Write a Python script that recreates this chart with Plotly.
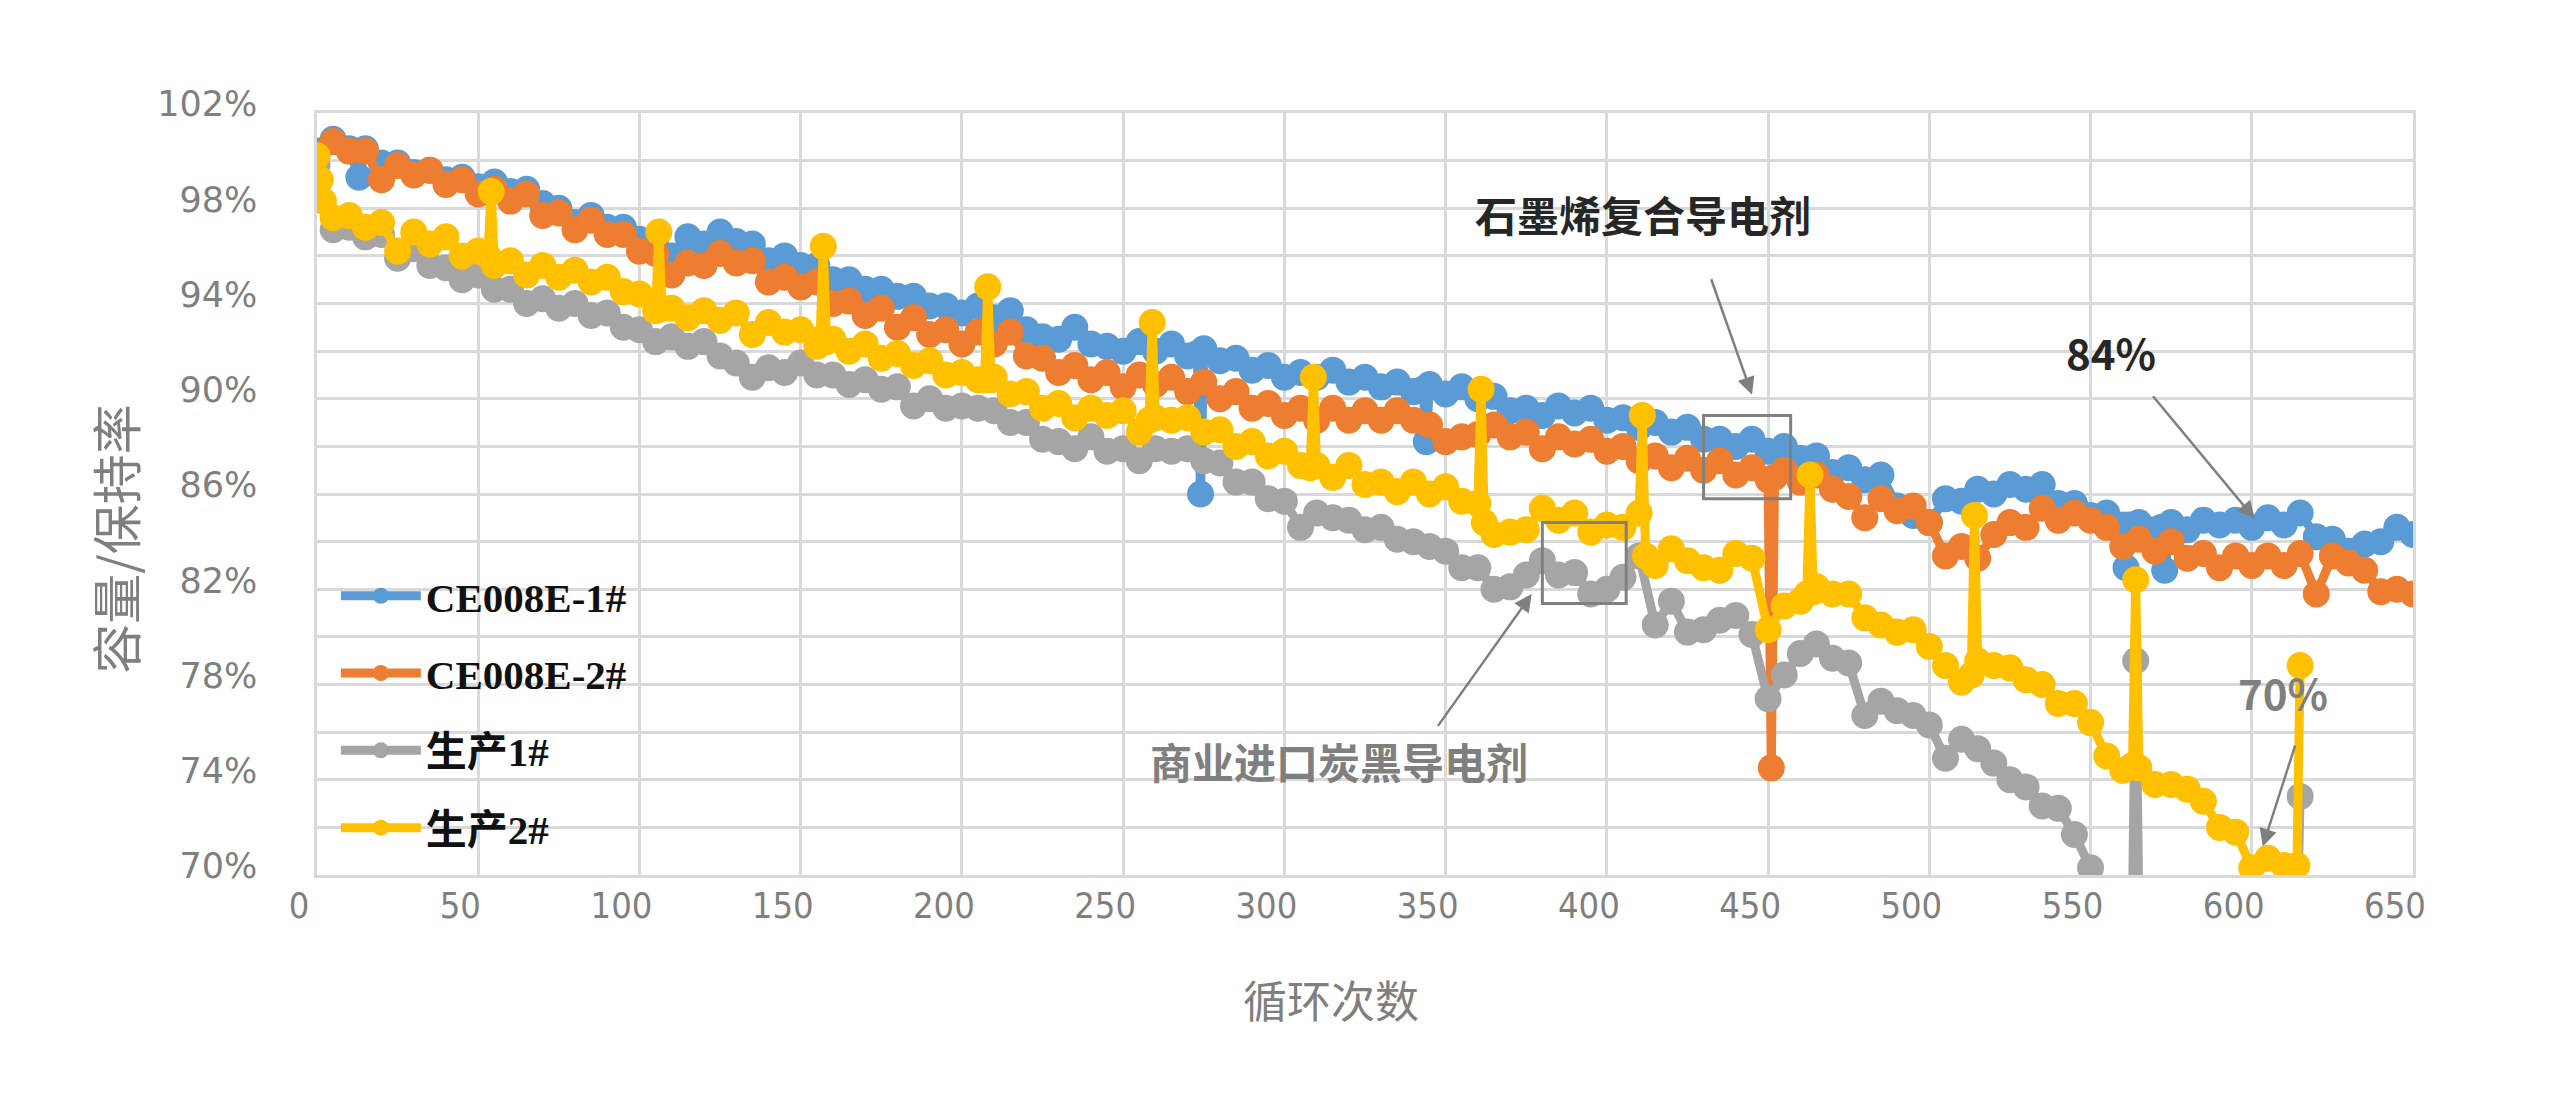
import plotly.graph_objects as go

# ---------------- data ----------------
BASE_CYCLES = list(range(0, 651, 5))

BLUE_VALUES = [
    100.4, 100.9, 100.5, 100.5, 99.9, 99.9, 99.5, 99.6, 99.2, 99.3,
    98.9, 99.1, 98.7, 98.8, 98.2, 98.0, 97.4, 97.7, 97.2, 97.2,
    96.7, 96.6, 96.0, 96.8, 96.5, 97.0, 96.6, 96.5, 95.8, 96.0,
    95.6, 95.6, 95.0, 95.0, 94.6, 94.6, 94.3, 94.3, 93.9, 93.9,
    93.6, 93.9, 93.4, 93.7, 92.9, 92.6, 92.5, 93.0, 92.3, 92.2,
    92.0, 92.4, 92.0, 92.3, 91.8, 92.1, 91.6, 91.7, 91.2, 91.4,
    90.9, 91.1, 90.9, 91.2, 90.7, 90.9, 90.5, 90.7, 90.3, 90.6,
    90.2, 90.5, 90.0, 90.1, 89.5, 89.6, 89.3, 89.7, 89.4, 89.6,
    89.1, 89.2, 88.8, 89.0, 88.6, 88.8, 88.3, 88.3, 88.0, 88.3,
    87.8, 88.0, 87.5, 87.6, 86.9, 87.1, 86.6, 86.8, 85.5, 85.1,
    84.8, 85.8, 85.7, 86.2, 86.0, 86.4, 86.2, 86.4, 85.6, 85.6,
    85.1, 85.2, 84.7, 84.8, 84.5, 84.8, 84.5, 84.9, 84.7, 84.9,
    84.6, 85.0, 84.7, 85.2, 84.2, 84.1, 83.6, 83.9, 84.0, 84.6,
    84.3,
]
ORANGE_VALUES = [
    100.2, 100.8, 100.4, 100.4, 99.2, 99.8, 99.4, 99.6, 99.0, 99.2,
    98.6, 98.8, 98.3, 98.6, 97.7, 97.8, 97.1, 97.5, 96.9, 96.9,
    96.2, 96.1, 95.2, 95.7, 95.6, 96.1, 95.7, 95.8, 94.9, 95.1,
    94.7, 94.9, 94.0, 94.1, 93.5, 93.8, 93.0, 93.4, 92.7, 92.9,
    92.3, 92.8, 92.3, 92.8, 91.8, 91.7, 91.1, 91.4, 90.8, 91.1,
    90.5, 91.0, 90.6, 90.9, 90.3, 90.7, 90.0, 90.3, 89.6, 89.8,
    89.3, 89.6, 89.1, 89.6, 89.1, 89.5, 89.1, 89.5, 89.1, 88.9,
    88.2, 88.4, 88.5, 88.9, 88.4, 88.6, 87.9, 88.4, 88.1, 88.3,
    87.8, 88.0, 87.4, 87.6, 87.1, 87.5, 87.0, 87.4, 86.8, 87.1,
    86.6, 87.0, 86.5, 86.8, 86.2, 85.9, 85.0, 85.8, 85.3, 85.5,
    84.8, 83.4, 83.8, 83.3, 84.3, 84.8, 84.6, 85.4, 84.9, 85.2,
    84.9, 84.6, 83.8, 84.1, 83.6, 84.0, 83.3, 83.5, 82.9, 83.4,
    83.0, 83.4, 83.0, 83.5, 81.8, 83.4, 83.1, 82.8, 81.9, 82.0,
    81.8,
]
GRAY_VALUES = [
    99.8, 97.1, 97.2, 96.8, 96.9, 95.9, 96.3, 95.6, 95.5, 95.0,
    95.2, 94.6, 94.6, 94.0, 94.2, 93.8, 94.0, 93.5, 93.6, 93.0,
    92.9, 92.4, 92.6, 92.2, 92.4, 91.8, 91.5, 90.9, 91.3, 91.1,
    91.5, 91.0, 91.0, 90.6, 90.8, 90.4, 90.5, 89.7, 90.0, 89.6,
    89.7, 89.6, 89.5, 89.0, 89.0, 88.3, 88.2, 87.9, 88.4, 87.8,
    87.9, 87.4, 87.9, 87.8, 87.9, 87.4, 87.3, 86.5, 86.5, 85.8,
    85.7, 84.6, 85.2, 85.0, 84.9, 84.5, 84.6, 84.1, 84.0, 83.8,
    83.6, 82.9, 82.9, 82.0, 82.1, 82.6, 83.2, 82.6, 82.7, 81.8,
    82.0, 82.5, 83.4, 80.5, 81.5, 80.2, 80.3, 80.7, 80.9, 80.1,
    77.4, 78.4, 79.3, 79.7, 79.1, 78.9, 76.7, 77.3, 76.9, 76.7,
    76.3, 74.9, 75.7, 75.3, 74.7, 74.0, 73.7, 72.9, 72.8, 71.7,
    70.3, 69.3, 68.9, 68.6, 68.4, 68.3, 68.1, 68.0, 67.9, 67.8,
    67.7, 67.6, 67.5,
]
YELLOW_VALUES = [
    100.2, 97.6, 97.7, 97.2, 97.4, 96.2, 97.0, 96.5, 96.8, 96.0,
    96.2, 95.6, 95.8, 95.2, 95.6, 95.1, 95.4, 94.9, 95.1, 94.5,
    94.4, 93.7, 93.8, 93.4, 93.7, 93.3, 93.6, 92.7, 93.2, 92.8,
    92.9, 92.2, 92.5, 92.0, 92.3, 91.7, 91.9, 91.4, 91.6, 91.0,
    91.1, 90.8, 90.9, 90.2, 90.3, 89.6, 89.8, 89.2, 89.6, 89.3,
    89.5, 88.6, 89.2, 89.1, 89.2, 88.6, 88.7, 88.0, 88.2, 87.6,
    87.8, 87.2, 87.2, 86.7, 87.2, 86.4, 86.5, 86.1, 86.5, 86.0,
    86.3, 85.7, 85.6, 84.3, 84.4, 84.5, 85.4, 84.9, 85.2, 84.4,
    84.7, 84.6, 85.2, 83.0, 83.7, 83.2, 82.9, 82.8, 83.5, 83.3,
    80.3, 81.3, 81.5, 82.1, 81.8, 81.8, 80.8, 80.5, 80.2, 80.3,
    79.6, 78.8, 78.1, 79.0, 78.8, 78.7, 78.2, 78.0, 77.2, 77.2,
    76.4, 75.0, 74.4, 74.5, 73.8, 73.8, 73.6, 73.1, 72.0, 71.8,
    70.3, 70.7, 70.4,
]

# isolated readings between the regular samples (spikes / drops)
BLUE_EXTRA_CYCLES = [13, 273, 274, 343, 344, 561, 562, 572, 573]
BLUE_EXTRA_VALUES = [99.3, 91.9, 86.0, 90.4, 88.2, 82.9, 84.7, 84.6, 82.8]
ORANGE_EXTRA_CYCLES = [451, 452]
ORANGE_EXTRA_VALUES = [74.5, 86.7]
GRAY_EXTRA_CYCLES = [563, 564, 614, 615]
GRAY_EXTRA_VALUES = [68.7, 79.0, 67.5, 73.3]
YELLOW_EXTRA_CYCLES = [1, 2, 53, 54, 106, 107, 156, 157, 158, 207, 208, 209,
                       258, 259, 308, 309, 361, 362, 411, 412, 462, 463, 464,
                       513, 514, 563, 564, 614, 615]
YELLOW_EXTRA_VALUES = [99.2, 98.3, 96.0, 98.7, 97.0, 93.8, 92.5, 96.4, 92.4, 90.8, 94.7, 90.8,
                       89.1, 93.2, 87.1, 90.9, 90.4, 84.8, 89.3, 83.4, 81.8, 86.8, 81.9,
                       78.4, 85.1, 74.6, 82.4, 70.4, 78.8]

SERIES_NAMES = ["CE008E-1#", "CE008E-2#", "生产1#", "生产2#"]
SERIES_COLORS = ["#5B9BD5", "#ED7D31", "#A5A5A5", "#FFC000"]

X_TICKS = list(range(0, 651, 50))
Y_TICKS = [70, 74, 78, 82, 86, 90, 94, 98, 102]
Y_TICK_LABELS = ["70%", "74%", "78%", "82%", "86%", "90%", "94%", "98%", "102%"]

X_TITLE = "循环次数"
Y_TITLE = "容量/保持率"


def merge(values, extra_c, extra_v):
    pts = list(zip(BASE_CYCLES[:len(values)], values)) + list(zip(extra_c, extra_v))
    pts.sort(key=lambda p: p[0])
    return [p[0] for p in pts], [p[1] for p in pts]


series = [
    merge(BLUE_VALUES, BLUE_EXTRA_CYCLES, BLUE_EXTRA_VALUES),
    merge(ORANGE_VALUES, ORANGE_EXTRA_CYCLES, ORANGE_EXTRA_VALUES),
    merge(GRAY_VALUES, GRAY_EXTRA_CYCLES, GRAY_EXTRA_VALUES),
    merge(YELLOW_VALUES, YELLOW_EXTRA_CYCLES, YELLOW_EXTRA_VALUES),
]

fig = go.Figure()
for (xs, ys), name, color in zip(series, SERIES_NAMES, SERIES_COLORS):
    fig.add_trace(go.Scatter(
        x=xs, y=ys, name=name, legendgroup=name,
        mode="lines+markers",
        line=dict(color=color, width=9),
        marker=dict(color=color, size=27),
        hoverinfo="skip",
    ))

GRID = "#D9D9D9"
TICK_GRAY = "#7F7F7F"

fig.update_layout(
    width=2560, height=1099,
    margin=dict(l=317, r=147, t=113, b=224),
    paper_bgcolor="white", plot_bgcolor="white",
    showlegend=True,
    legend=dict(
        x=0.009, y=0.41, xanchor="left", yanchor="top",
        bgcolor="rgba(0,0,0,0)",
        font=dict(family="Liberation Serif, Noto Sans CJK SC", size=41, color="#111111", weight="bold"),
        tracegroupgap=21, itemwidth=80,
    ),
    xaxis=dict(
        range=[0, 650], tickvals=X_TICKS, ticks="",
        showgrid=True, gridcolor=GRID, gridwidth=2.5, zeroline=False,
        showline=True, linecolor=GRID, linewidth=3, mirror=True,
        tickfont=dict(family="Liberation Sans Narrow, DejaVu Sans Condensed, Liberation Sans", size=36, color=TICK_GRAY),
        ticklabelshift=-18, ticklabelstandoff=-3,
    ),
    yaxis=dict(
        range=[70, 102], tickvals=Y_TICKS, ticktext=Y_TICK_LABELS, ticks="",
        showgrid=True, gridcolor=GRID, gridwidth=2.5, zeroline=False,
        showline=True, linecolor=GRID, linewidth=2.5, mirror=True,
        minor=dict(dtick=2, tick0=70, showgrid=True, gridcolor=GRID, gridwidth=2.5),
        tickfont=dict(family="DejaVu Sans", size=35, color=TICK_GRAY),
        ticklabelshift=-9, ticklabelstandoff=50,
    ),
)

ann = []
# axis titles
ann.append(dict(text=X_TITLE, xref="paper", yref="paper", x=0.4838, y=-0.1627,
                xanchor="center", yanchor="middle",
                showarrow=False, font=dict(family="Noto Sans CJK SC", size=44, color=TICK_GRAY)))
ann.append(dict(text=Y_TITLE, xref="paper", yref="paper", x=-0.0969, y=0.441, textangle=-90,
                xanchor="center", yanchor="middle",
                showarrow=False, font=dict(family="Noto Sans CJK SC", size=50, color=TICK_GRAY)))

# text labels
LABELS = [
    ("石墨烯复合导电剂", 411.2, 97.77, "#262626"),
    ("84%", 556.3, 92.0, "#262626"),
    ("商业进口炭黑导电剂", 316.9, 74.8, "#7F7F7F"),
    ("70%", 609.6, 77.7, "#7F7F7F"),
]
for t, x, y, c in LABELS:
    ann.append(dict(text=t, x=x, y=y, xref="x", yref="y", showarrow=False,
                    xanchor="center", yanchor="middle",
                    font=dict(family="Noto Sans CJK SC", size=42, color=c, weight="bold")))

# arrows: (head_x, head_y, tail_x, tail_y)
ARROWS = [
    (445.0, 90.17, 432.2, 95.08),
    (600.9, 84.96, 569.0, 90.17),
    (376.7, 81.8, 347.3, 76.2),
    (603.4, 71.2, 613.6, 75.5),
]
for hx, hy, tx, ty in ARROWS:
    ann.append(dict(x=hx, y=hy, ax=tx, ay=ty, xref="x", yref="y", axref="x", ayref="y",
                    text="", showarrow=True, arrowhead=2, arrowsize=1.4, arrowwidth=2.5,
                    arrowcolor="#7F7F7F"))
fig.update_layout(annotations=ann)

# highlight boxes
BOXES = [(430, 85.8, 457, 89.3), (380, 81.4, 406, 84.8)]
for x0, y0, x1, y1 in BOXES:
    fig.add_shape(type="rect", xref="x", yref="y", x0=x0, y0=y0, x1=x1, y1=y1,
                  line=dict(color="#808080", width=3), fillcolor="rgba(0,0,0,0)")

fig.write_html("out.html", config={"displayModeBar": False},
               post_script="document.body.style.margin='0';document.body.style.overflow='hidden';")
